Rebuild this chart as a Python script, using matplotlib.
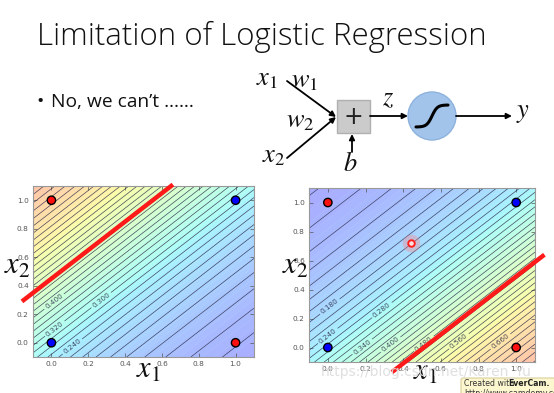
import numpy as np
import matplotlib
matplotlib.use("Agg")
import matplotlib.pyplot as plt
from matplotlib.patches import Rectangle, Circle, FancyBboxPatch

plt.rcParams['mathtext.fontset'] = 'stix'

# XOR-style training points
pt_x1 = [0.0, 1.0, 0.0, 1.0]
pt_x2 = [0.0, 1.0, 1.0, 0.0]
pt_colors = ['#0000ff', '#0000ff', '#ff1010', '#ff1010']

# logistic-regression weights for the two panels (w1, w2, b)
left_w = [-1.8, 1.8, -0.9]
right_w = [1.9, -1.9, -1.0]

# hand-drawn decision lines: x1 endpoints and intercept (x2 = x1 + c)
left_line_x1 = [-0.16, 0.66]
left_line_c = 0.45
right_line_x1 = [0.34, 1.15]
right_line_c = -0.51

# contour labels: value and where they sit
left_label_vals = [0.24, 0.30, 0.32, 0.40]
left_label_pos = [(0.11, -0.02), (0.27, 0.30), (0.0, 0.13), (-0.01, 0.33)]
right_label_vals = [0.18, 0.24, 0.28, 0.34, 0.40, 0.48, 0.56, 0.66]
right_label_pos = [(0.03, 0.25), (0.0, 0.08), (0.31, 0.22), (0.18, 0.01),
                   (0.34, 0.01), (0.52, 0.01), (0.71, 0.02), (0.93, 0.02)]

ticks = [0.0, 0.2, 0.4, 0.6, 0.8, 1.0]
tick_labels = ['0.0', '0.2', '0.4', '0.6', '0.8', '1.0']

W, H = 554, 393
fig = plt.figure(figsize=(W / 100, H / 100), dpi=100)
fig.patch.set_facecolor('white')

g = np.linspace(-0.1, 1.1, 300)
G1, G2 = np.meshgrid(g, g)


def sigmoid(z):
    return 1.0 / (1.0 + np.exp(-z))


def panel(rect, w, line_x1, line_c, lab_vals, lab_pos):
    ax = fig.add_axes(rect, zorder=2)
    P = sigmoid(w[0] * G1 + w[1] * G2 + w[2])
    ax.contourf(G1, G2, P, levels=120, cmap='jet', vmin=-0.11, vmax=0.97,
                alpha=0.34, antialiased=True)
    all_lv = np.round(np.arange(0.02, 1.0, 0.02), 2)
    plain_lv = [v for v in all_lv if not np.any(np.isclose(v, lab_vals))]
    line_kw = dict(colors='#2c2c4a', linewidths=0.5, alpha=0.85)
    ax.contour(G1, G2, P, levels=plain_lv, **line_kw)
    cs = ax.contour(G1, G2, P, levels=lab_vals, **line_kw)
    ax.clabel(cs, manual=lab_pos, fmt='%.3f', fontsize=5.2,
              colors='#2c2c4a', inline=True, inline_spacing=2)
    ax.scatter(pt_x1, pt_x2, s=36, c=pt_colors, edgecolors='black',
               linewidths=1.0, zorder=5)
    lx = np.array(line_x1)
    ax.plot(lx, lx + line_c, color='#ff1a1a', lw=3.2, solid_capstyle='butt',
            clip_on=False, zorder=6)
    ax.set_xlim(-0.1, 1.1)
    ax.set_ylim(-0.1, 1.1)
    ax.set_xticks(ticks)
    ax.set_xticklabels(tick_labels)
    ax.set_yticks(ticks)
    ax.set_yticklabels(tick_labels)
    ax.tick_params(direction='in', top=True, right=True, length=3, width=0.5,
                   labelsize=5.3, colors='#555555', pad=3)
    for s in ax.spines.values():
        s.set_color('#999999')
        s.set_linewidth(0.8)
    return ax


axl = panel([33 / W, 1 - 357 / H, 221 / W, 171 / H], left_w,
            left_line_x1, left_line_c, left_label_vals, left_label_pos)
axr = panel([309 / W, 1 - 362 / H, 226 / W, 174 / H], right_w,
            right_line_x1, right_line_c, right_label_vals, right_label_pos)

# highlighted cursor point in the right panel
axr.scatter([0.44], [0.72], s=160, color='#ff8080', alpha=0.35, linewidths=0, zorder=6)
axr.scatter([0.44], [0.72], s=22, facecolors='#ffe0e0', edgecolors='#ff2020',
            linewidths=1.4, zorder=7)

# slide layer in pixel coordinates
ov = fig.add_axes([0, 0, 1, 1], zorder=5)
ov.set_xlim(0, W)
ov.set_ylim(H, 0)
ov.axis('off')
ov.patch.set_alpha(0)

ov.text(37, 45, 'Limitation of Logistic Regression', fontsize=22.5,
        family='Open Sans', fontweight='light', color='#111111', va='baseline')
ov.text(36, 107, '\u2022', fontsize=14, family='Open Sans', color='#111111',
        va='baseline')
ov.text(51, 107, 'No, we can\u2019t \u2026\u2026', fontsize=13.8,
        family='Open Sans', color='#111111', va='baseline')

# neuron diagram
arrow = dict(arrowstyle='-|>', color='black', lw=1.3, mutation_scale=8,
             shrinkA=0, shrinkB=0)
ov.annotate('', xy=(336, 117), xytext=(287, 81), arrowprops=arrow)
ov.annotate('', xy=(336, 117), xytext=(287, 158), arrowprops=arrow)
ov.add_patch(Rectangle((337, 100), 33, 33, facecolor='#cbcbcb',
                       edgecolor='#b0b0b0', lw=1))
ov.text(353.5, 116.5, '+', fontsize=17, ha='center', va='center',
        family='DejaVu Sans', color='#222222')
ov.annotate('', xy=(352, 134), xytext=(352, 152), arrowprops=arrow)
ov.annotate('', xy=(408, 116), xytext=(370, 116), arrowprops=arrow)
ov.add_patch(Circle((432, 116), 24, facecolor='#a3c4ea', edgecolor='#8db2de', lw=1))
t = np.linspace(-1, 1, 60)
ov.plot(432 + 16 * t, 116 - 11 * np.tanh(3 * t), color='black', lw=2.2,
        solid_capstyle='round')
ov.annotate('', xy=(512, 116), xytext=(456, 116), arrowprops=arrow)

mt = dict(fontsize=19, ha='center', va='center', color='#111111')
ov.text(267, 78, r'$x_1$', **mt)
ov.text(305, 80, r'$w_1$', **mt)
ov.text(300, 120, r'$w_2$', **mt)
ov.text(274, 155, r'$x_2$', **mt)
ov.text(350, 164, r'$b$', **mt)
ov.text(388, 98, r'$z$', **mt)
ov.text(523, 112, r'$y$', **mt)

# axis labels in slide style
al = dict(fontsize=22, ha='center', va='center', color='#111111')
ov.text(148, 369, r'$x_1$', **al)
ov.text(17, 266, r'$x_2$', **al)
ov.text(425, 371, r'$x_1$', **al)
ov.text(295, 265, r'$x_2$', **al)

# watermark and recorder badge
ov.text(426, 372, 'https://blog.csdn.net/Karen_Yu', fontsize=10, ha='center',
        va='center', color='#dcdcdc', alpha=0.9, family='DejaVu Sans')
ov.add_patch(FancyBboxPatch((461, 378), 100, 30, boxstyle='round,pad=0,rounding_size=2',
                            facecolor='#fdf7cf', edgecolor='#d8cf98', lw=0.8))
ov.text(464, 384, 'Created with', fontsize=5.6, va='center', color='#333333',
        family='DejaVu Sans')
ov.text(508, 384, 'EverCam.', fontsize=5.6, va='center', color='#222222',
        fontweight='bold', family='DejaVu Sans')
ov.text(464, 393, 'http://www.camdemy.com', fontsize=5.6, va='center',
        color='#333333', family='DejaVu Sans')

fig.savefig('out.png', dpi=100)
